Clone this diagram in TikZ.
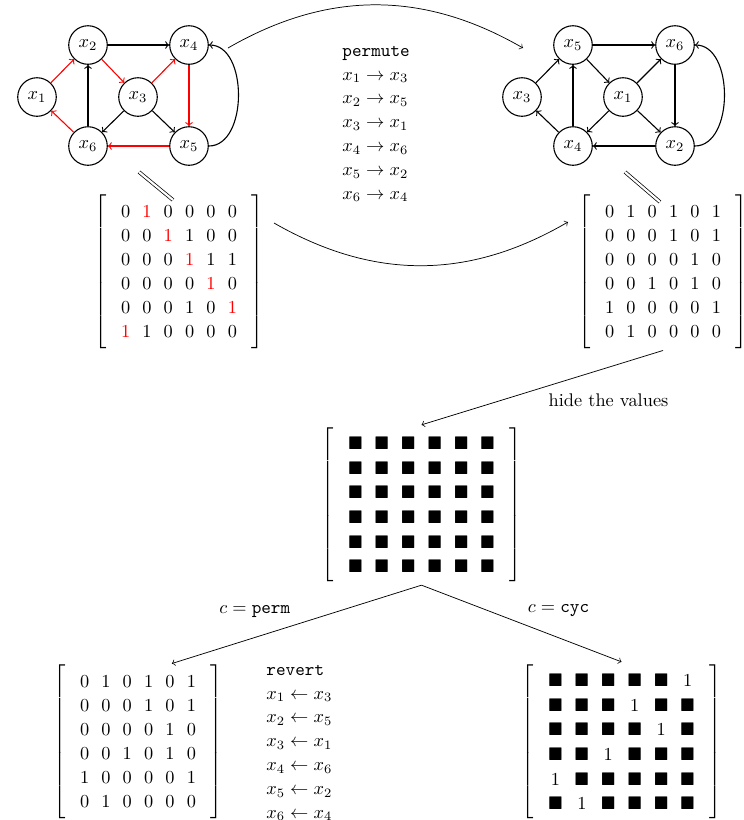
\documentclass[tikz,border=0pt]{standalone}
\usepackage{amsmath}
\usepackage{amssymb}
\usepackage{tikz}
\usetikzlibrary{matrix,arrows}

\tikzset{
	vert/.style={circle, draw, semithick, minimum size=7.4mm, inner sep=0pt},
	edge/.style={->, semithick},
	redge/.style={edge, red},
	adj/.style={matrix of math nodes, left delimiter={[}, right delimiter={]}},
}
\newcommand{\hb}{\blacksquare}

\begin{document}
\begin{tikzpicture}[x=0.0192cm, y=-0.0192cm]
	\useasboundingbox (0,0) rectangle (744,820);
	% graph before
	\node[vert] (a1) at (37,97)  {$x_1$};
	\node[vert] (a2) at (88,45)  {$x_2$};
	\node[vert] (a3) at (138,97) {$x_3$};
	\node[vert] (a4) at (189,45) {$x_4$};
	\node[vert] (a5) at (189,146) {$x_5$};
	\node[vert] (a6) at (88,146) {$x_6$};
	\draw[redge] (a1) -- (a2);
	\draw[edge] (a2) -- (a4);
	\draw[redge] (a2) -- (a3);
	\draw[redge] (a3) -- (a4);
	\draw[edge] (a3) -- (a6);
	\draw[edge] (a3) -- (a5);
	\draw[redge] (a4) -- (a5);
	\draw[redge] (a5) -- (a6);
	\draw[redge] (a6) -- (a1);
	\draw[edge] (a6) -- (a2);
	\draw[edge] (a5) to[out=0,in=0] (a4);
	% graph after
	\node[vert] (b3) at (522,97)  {$x_3$};
	\node[vert] (b5) at (573,45)  {$x_5$};
	\node[vert] (b1) at (623,97)  {$x_1$};
	\node[vert] (b6) at (675,45)  {$x_6$};
	\node[vert] (b2) at (675,146) {$x_2$};
	\node[vert] (b4) at (573,146) {$x_4$};
	\draw[edge] (b3) -- (b5);
	\draw[edge] (b5) -- (b6);
	\draw[edge] (b5) -- (b1);
	\draw[edge] (b1) -- (b6);
	\draw[edge] (b1) -- (b4);
	\draw[edge] (b1) -- (b2);
	\draw[edge] (b6) -- (b2);
	\draw[edge] (b2) -- (b4);
	\draw[edge] (b4) -- (b3);
	\draw[edge] (b4) -- (b5);
	\draw[edge] (b2) to[out=0,in=0] (b6);

	\node[align=left, anchor=west] (perm) at (336,124) {\texttt{permute}\\[1pt]
		$x_1 \rightarrow x_3$\\[1pt] $x_2 \rightarrow x_5$\\[1pt] $x_3 \rightarrow x_1$\\[1pt]
		$x_4 \rightarrow x_6$\\[1pt] $x_5 \rightarrow x_2$\\[1pt] $x_6 \rightarrow x_4$};

	% adjacency matrices
	\matrix (A) [adj] at (179,272) {
		0 & |[red]| 1 & 0 & 0 & 0 & 0 \\
		0 & 0 & |[red]| 1 & 1 & 0 & 0 \\
		0 & 0 & 0 & |[red]| 1 & 1 & 1 \\
		0 & 0 & 0 & 0 & |[red]| 1 & 0 \\
		0 & 0 & 0 & 1 & 0 & |[red]| 1 \\
		|[red]| 1 & 1 & 0 & 0 & 0 & 0 \\
	};
	\matrix (B) [adj] at (663,272) {
		0 & 1 & 0 & 1 & 0 & 1 \\
		0 & 0 & 0 & 1 & 0 & 1 \\
		0 & 0 & 0 & 0 & 1 & 0 \\
		0 & 0 & 1 & 0 & 1 & 0 \\
		1 & 0 & 0 & 0 & 0 & 1 \\
		0 & 1 & 0 & 0 & 0 & 0 \\
	};
	\coordinate (ga) at (139,172);
	\coordinate (ma) at (173,200);
	\coordinate (gb) at (625,172);
	\coordinate (mb) at (660,202);
	\draw[double, double distance=1.2pt] (ga) -- (ma);
	\draw[double, double distance=1.2pt] (gb) -- (mb);

	\coordinate (p0) at (228,48);
	\coordinate (p1) at (523,48);
	\draw[->] (p0) to[bend left=30] (p1);
	\coordinate (q0) at (274,223);
	\coordinate (q1) at (568,222);
	\draw[->] (q0) to[bend right=30] (q1);

	% hidden
	\matrix (H) [adj] at (421.5,505) {
		\hb & \hb & \hb & \hb & \hb & \hb \\
		\hb & \hb & \hb & \hb & \hb & \hb \\
		\hb & \hb & \hb & \hb & \hb & \hb \\
		\hb & \hb & \hb & \hb & \hb & \hb \\
		\hb & \hb & \hb & \hb & \hb & \hb \\
		\hb & \hb & \hb & \hb & \hb & \hb \\
	};
	\draw[->] (B.south) -- node[midway, below right] {hide the values} (H.north);

	% the two cases
	\matrix (R) [adj] at (138,742) {
		0 & 1 & 0 & 1 & 0 & 1 \\
		0 & 0 & 0 & 1 & 0 & 1 \\
		0 & 0 & 0 & 0 & 1 & 0 \\
		0 & 0 & 1 & 0 & 1 & 0 \\
		1 & 0 & 0 & 0 & 0 & 1 \\
		0 & 1 & 0 & 0 & 0 & 0 \\
	};
	\node[align=left, anchor=west] (rev) at (260,743) {\texttt{revert}\\[1pt]
		$x_1 \leftarrow x_3$\\[1pt] $x_2 \leftarrow x_5$\\[1pt] $x_3 \leftarrow x_1$\\[1pt]
		$x_4 \leftarrow x_6$\\[1pt] $x_5 \leftarrow x_2$\\[1pt] $x_6 \leftarrow x_4$};
	\matrix (C) [adj] at (621.5,742) {
		\hb & \hb & \hb & \hb & \hb & 1 \\
		\hb & \hb & \hb & 1 & \hb & \hb \\
		\hb & \hb & \hb & \hb & 1 & \hb \\
		\hb & \hb & 1 & \hb & \hb & \hb \\
		1 & \hb & \hb & \hb & \hb & \hb \\
		\hb & 1 & \hb & \hb & \hb & \hb \\
	};
	\draw[->] (H.south) -- node[midway, above left] {$c = \texttt{perm}$} ([xshift=6.5mm]R.north);
	\draw[->] (H.south) -- node[midway, above right] {$c = \texttt{cyc}$} (C.north);
\end{tikzpicture}
\end{document}
